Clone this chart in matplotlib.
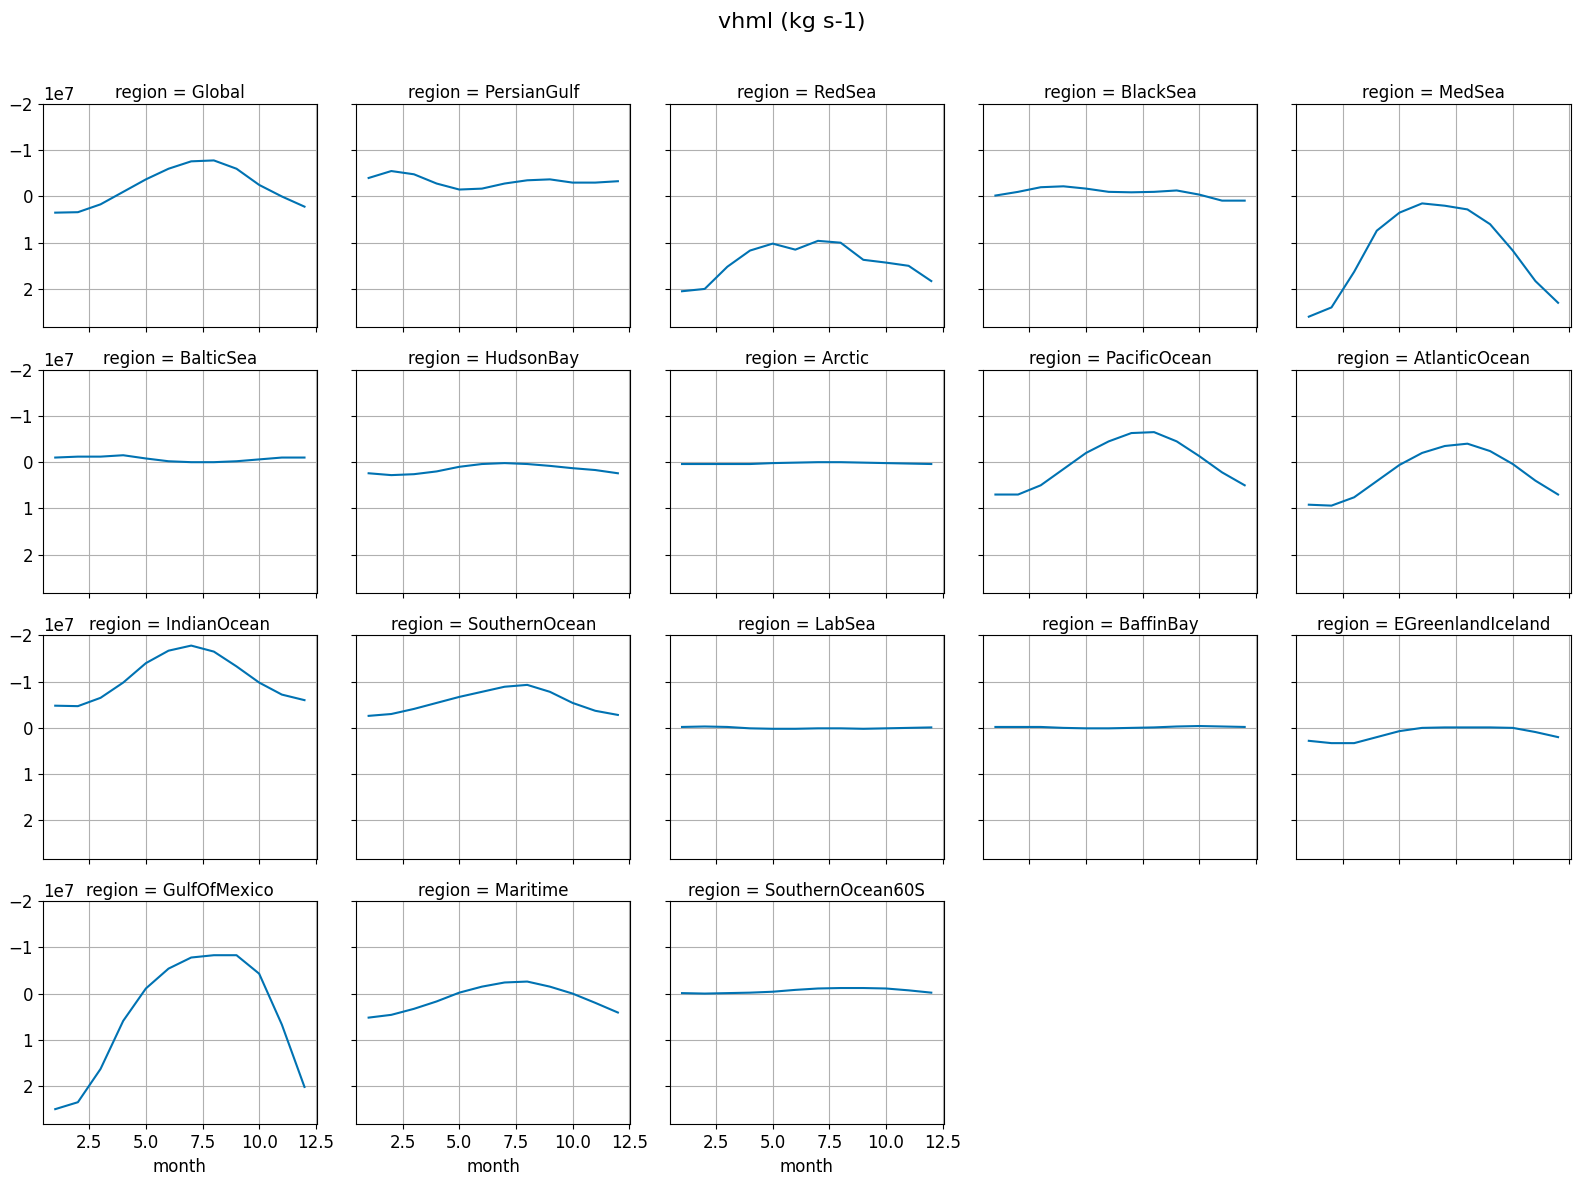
import numpy as np
import matplotlib
matplotlib.use("Agg")
import matplotlib.pyplot as plt

months = np.arange(1, 13)
regions = ["Global","PersianGulf","RedSea","BlackSea","MedSea","BalticSea","HudsonBay","Arctic",
           "PacificOcean","AtlanticOcean","IndianOcean","SouthernOcean","LabSea","BaffinBay",
           "EGreenlandIceland","GulfOfMexico","Maritime","SouthernOcean60S"]
# values in units of 1e7 kg s-1
Global = [0.35,0.34,0.17,-0.1,-0.37,-0.6,-0.76,-0.78,-0.6,-0.25,0.0,0.22]
PersianGulf = [-0.4,-0.55,-0.48,-0.28,-0.15,-0.17,-0.28,-0.35,-0.37,-0.3,-0.3,-0.33]
RedSea = [2.05,2.0,1.52,1.17,1.02,1.15,0.96,1.0,1.37,1.43,1.5,1.83]
BlackSea = [-0.02,-0.1,-0.2,-0.22,-0.17,-0.1,-0.09,-0.1,-0.13,-0.04,0.09,0.09]
MedSea = [2.6,2.4,1.63,0.74,0.35,0.15,0.2,0.28,0.6,1.17,1.83,2.3]
BalticSea = [-0.1,-0.12,-0.12,-0.15,-0.08,-0.02,0.0,0.0,-0.02,-0.06,-0.1,-0.1]
HudsonBay = [0.24,0.28,0.26,0.2,0.1,0.04,0.02,0.04,0.08,0.13,0.17,0.24]
Arctic = [0.04,0.04,0.04,0.04,0.02,0.01,0.0,0.0,0.01,0.02,0.03,0.04]
PacificOcean = [0.7,0.7,0.5,0.15,-0.2,-0.45,-0.63,-0.65,-0.45,-0.13,0.22,0.5]
AtlanticOcean = [0.92,0.94,0.76,0.41,0.06,-0.2,-0.35,-0.4,-0.24,0.04,0.4,0.7]
IndianOcean = [-0.48,-0.47,-0.65,-0.98,-1.4,-1.67,-1.78,-1.65,-1.33,-0.98,-0.72,-0.6]
SouthernOcean = [-0.26,-0.3,-0.41,-0.54,-0.67,-0.78,-0.89,-0.93,-0.78,-0.54,-0.37,-0.28]
LabSea = [-0.02,-0.03,-0.02,0.01,0.02,0.02,0.01,0.01,0.02,0.01,0.0,-0.01]
BaffinBay = [-0.02,-0.02,-0.02,0.0,0.01,0.01,0.0,-0.01,-0.03,-0.04,-0.03,-0.02]
EGreenlandIceland = [0.28,0.33,0.33,0.2,0.07,0.0,-0.01,-0.01,-0.01,0.0,0.09,0.2]
GulfOfMexico = [2.5,2.35,1.63,0.59,-0.11,-0.54,-0.78,-0.83,-0.83,-0.43,0.67,2.02]
Maritime = [0.52,0.46,0.33,0.17,-0.02,-0.15,-0.24,-0.26,-0.15,0.0,0.2,0.41]
SouthernOcean60S = [-0.01,0.0,-0.01,-0.02,-0.04,-0.08,-0.11,-0.12,-0.12,-0.11,-0.07,-0.02]
series = [Global,PersianGulf,RedSea,BlackSea,MedSea,BalticSea,HudsonBay,Arctic,PacificOcean,
          AtlanticOcean,IndianOcean,SouthernOcean,LabSea,BaffinBay,EGreenlandIceland,
          GulfOfMexico,Maritime,SouthernOcean60S]

plt.rcParams["font.size"] = 12
fig, axes = plt.subplots(4, 5, figsize=(15.84, 11.78), dpi=100, sharex=True, sharey=True)
fig.subplots_adjust(left=0.027, right=0.9915, top=0.9117, bottom=0.0455, wspace=0.143, hspace=0.19)
flat = axes.ravel()
for i, (name, vals) in enumerate(zip(regions, series)):
    ax = flat[i]
    ax.plot(months, np.array(vals) * 1e7, color="#0072b2", lw=1.5)
    ax.set_title(f"region = {name}", fontsize=12, pad=4)
    ax.grid(True)
    ax.set_axisbelow(True)
for ax in flat[len(regions):]:
    ax.remove()
flat[0].set_ylim(2.83e7, -2.0e7)
flat[0].set_yticks([-2e7, -1e7, 0, 1e7, 2e7])
flat[0].set_xlim(0.45, 12.55)
for ax in flat[15:18]:
    ax.set_xlabel("month")
    ax.xaxis.set_tick_params(labelbottom=True)
for ax in flat[10:15]:
    ax.xaxis.set_tick_params(labelbottom=False)
fig.suptitle("vhml (kg s-1)", fontsize=16, y=0.99)
fig.savefig("out.png", dpi=100)
